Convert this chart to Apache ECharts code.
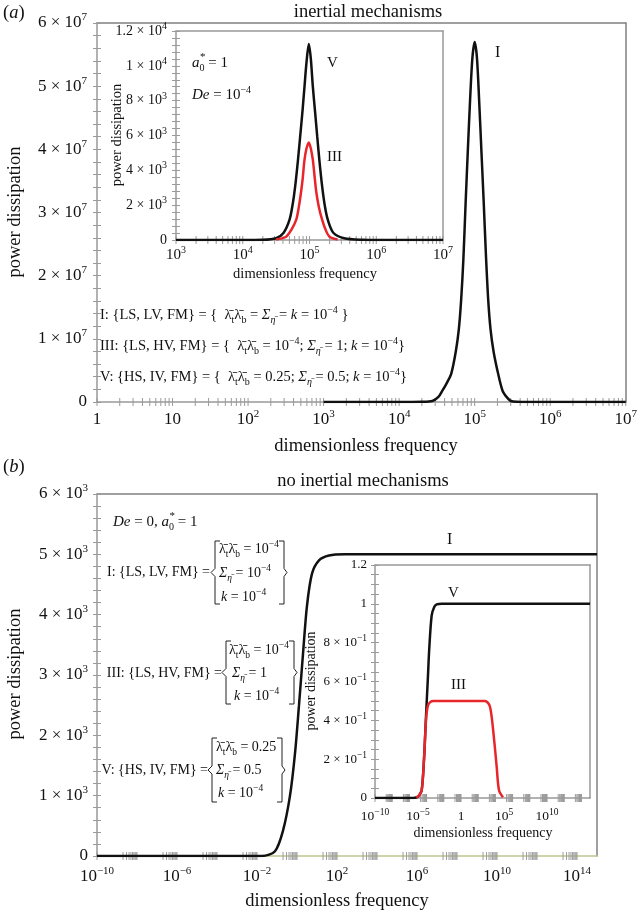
<!DOCTYPE html>
<html><head><meta charset="utf-8">
<script src="https://cdn.jsdelivr.net/npm/echarts@6/dist/echarts.min.js"></script>
<style>html,body{margin:0;padding:0;background:#fff}#c{width:640px;height:912px}</style>
</head><body><div id="c"></div>
<script>
// ---------- DATA (x values are log10 of the dimensionless frequency) ----------
// (a) inertial mechanisms, main plot: case I
const aI_logf = [3.0, 4.0, 4.3, 4.44, 4.52, 4.57, 4.63, 4.69, 4.75, 4.79, 4.82, 4.85, 4.88, 4.91, 4.94, 4.97, 5.0, 5.03, 5.06, 5.09, 5.12, 5.15, 5.18, 5.21, 5.25, 5.31, 5.37, 5.43, 5.48, 5.56, 5.7, 6.0, 7.0];
const aI_val  = [0, 0, 3e4, 1.6e5, 8e5, 1.75e6, 3.0e6, 4.5e6, 8.0e6, 1.15e7, 1.6e7, 2.25e7, 3.15e7, 4.0e7, 4.8e7, 5.45e7, 5.7e7, 5.45e7, 4.75e7, 3.95e7, 3.15e7, 2.3e7, 1.6e7, 1.15e7, 8.0e6, 4.5e6, 1.75e6, 7e5, 1.6e5, 3e4, 0, 0, 0];
// (a) inset: case V and case III
const aV_logf = [3.0, 4.0, 4.3, 4.5, 4.61, 4.70, 4.75, 4.785, 4.83, 4.86, 4.895, 4.925, 4.955, 4.99, 5.02, 5.05, 5.085, 5.116, 5.15, 5.19, 5.23, 5.275, 5.36, 5.52, 5.8, 6.0, 7.0];
const aV_val  = [0, 0, 10, 100, 400, 1150, 2100, 3060, 4700, 5930, 7400, 8800, 10200, 11250, 10400, 8800, 7300, 5930, 4500, 3060, 1950, 1150, 400, 100, 10, 0, 0];
const aIII_logf = [4.5, 4.65, 4.73, 4.80, 4.84, 4.875, 4.90, 4.925, 4.955, 4.99, 5.02, 5.05, 5.075, 5.10, 5.14, 5.19, 5.24, 5.30, 5.42];
const aIII_val  = [30, 190, 600, 1150, 1900, 2800, 3600, 4600, 5250, 5600, 5250, 4600, 3700, 2800, 1900, 1150, 600, 190, 30];
// (b) no inertial mechanisms, main plot: case I
const bI_logf = [-10, -6, -3, -1.75, -1.1, -0.7, -0.35, -0.1, 0.1, 0.3, 0.5, 0.75, 1.1, 1.6, 2.4, 4, 8, 15];
const bI_val  = [0, 0, 0, 0, 80, 420, 1000, 1700, 2500, 3350, 4150, 4680, 4900, 4980, 5000, 5000, 5000, 5000];
// (b) inset: case V and case III
const bV_logf = [-10, -6, -5.2, -4.9, -4.57, -4.3, -4.07, -3.85, -3.69, -3.41, -3.1, -2.83, -2.24, 0, 5, 10, 15];
const bV_val  = [0, 0, 0.003, 0.012, 0.04, 0.2, 0.42, 0.62, 0.77, 0.94, 0.985, 0.997, 1.0, 1.0, 1.0, 1.0, 1.0];
const bIII_logf = [-5.2, -4.9, -4.57, -4.3, -4.07, -3.85, -3.55, -3.2, 0, 2.79, 3.14, 3.37, 3.56, 3.76, 3.96, 4.15, 4.42, 4.88];
const bIII_val  = [0.003, 0.012, 0.04, 0.2, 0.4, 0.475, 0.495, 0.5, 0.5, 0.5, 0.49, 0.47, 0.42, 0.34, 0.25, 0.16, 0.04, 0.004];
// axis ranges / tick label exponents
const aMainX = [0, 7], aInsetX = [3, 7], bMainX = [-10, 15], bInsetX = [-10, 15];
const bMainLabelExps = [-10, -6, -2, 2, 6, 10, 14];
const bInsetLabelExps = [-10, -5, 0, 5, 10];

// ---------- helpers ----------
const SERIF = "'Liberation Serif','Times New Roman','DejaVu Serif',serif";
const GRAY = '#9a9a9a';
const pairs = (xs, ys) => xs.map((x, i) => [x, ys[i]]);
const MINUS = '\u2212';
function expLabel(e) { e = Math.round(e); if (e === 0) return '1'; if (e === 1) return '10'; return '{b|10}{s|' + (e < 0 ? MINUS + (-e) : e) + '}'; }
function richFor(size, sup) {
  return { b: { fontFamily: SERIF, fontSize: size, lineHeight: size + 5, color: '#111' },
           s: { fontFamily: SERIF, fontSize: sup, lineHeight: sup, verticalAlign: 'top', color: '#111' } };
}
function xMain(g, ext, fmt, size, sup, color, margin) {
  return { type: 'value', gridIndex: g, min: ext[0], max: ext[1], interval: 1, position: 'bottom',
    axisLine: { show: true, onZero: false, lineStyle: { color: color, width: 1.5 } },
    axisTick: { show: false }, splitLine: { show: false },
    axisLabel: { formatter: fmt, fontFamily: SERIF, fontSize: size, lineHeight: size + 5, color: '#111', margin: margin, rich: richFor(size, sup) } };
}
function xTop(g, ext, color) {
  return { type: 'value', gridIndex: g, min: ext[0], max: ext[1], position: 'top',
    axisLine: { show: true, onZero: false, lineStyle: { color: color, width: 1.5 } },
    axisTick: { show: false }, axisLabel: { show: false }, splitLine: { show: false } };
}
function yMain(g, max, interval, minor, fmt, size, sup, margin) {
  return { type: 'value', gridIndex: g, min: 0, max: max, interval: interval, position: 'left',
    axisLine: { show: true, onZero: false, lineStyle: { color: '#999', width: 1.5 } },
    axisTick: { show: true, length: 4, lineStyle: { color: GRAY } },
    minorTick: { show: true, splitNumber: minor, length: 4, lineStyle: { color: GRAY } },
    splitLine: { show: false }, minorSplitLine: { show: false },
    axisLabel: { formatter: fmt, fontFamily: SERIF, fontSize: size, lineHeight: size + 5, color: '#111', margin: margin, rich: richFor(size, sup) } };
}
function yDup(g, max, interval, minor) {
  return { type: 'value', gridIndex: g, min: 0, max: max, interval: interval, position: 'left',
    axisLine: { show: false, onZero: false }, axisLabel: { show: false }, splitLine: { show: false },
    axisTick: { show: true, inside: true, length: 4, lineStyle: { color: GRAY } },
    minorTick: { show: true, splitNumber: minor, length: 4, lineStyle: { color: GRAY } } };
}
function yRight(g, max, color) {
  return { type: 'value', gridIndex: g, min: 0, max: max, position: 'right',
    axisLine: { show: true, onZero: false, lineStyle: { color: color, width: 1.5 } },
    axisTick: { show: false }, axisLabel: { show: false }, splitLine: { show: false } };
}
// log-style tick marks for the exponent axes
function logTicks(ext, majorStep, minorDecades) {
  const out = [];
  for (let e = ext[0]; e <= ext[1]; e += majorStep) out.push([e, 4]);
  minorDecades.forEach(k => { for (let m = 2; m <= 9; m++) out.push([k + Math.log10(m), 4]); });
  return out;
}
function range(a, b, step) { const r = []; for (let v = a; v <= b; v += step) r.push(v); return r; }
function tickSeries(g, yIdx, items) {
  return { type: 'custom', xAxisIndex: 2 * g, yAxisIndex: yIdx, silent: true, z: 1, animation: false, clip: false,
    data: items.map(t => [t[0], 0, t[1]]),
    renderItem: function (params, api) {
      const p = api.coord([api.value(0), api.value(1)]);
      const L = api.value(2);
      return { type: 'line', shape: { x1: p[0], y1: p[1] - L, x2: p[0], y2: p[1] + L }, style: { stroke: GRAY, lineWidth: 1 } };
    } };
}
function lineS(g, yIdx, data, color, z) {
  return { type: 'line', xAxisIndex: 2 * g, yAxisIndex: yIdx, data: data, showSymbol: false, symbol: 'none',
    smooth: 0.3, lineStyle: { color: color, width: 2.5 }, z: z, animation: false, silent: true };
}

// ---------- text helpers ----------
const ctx = document.createElement('canvas').getContext('2d');
function tw(t, size, italic) { ctx.font = (italic ? 'italic ' : '') + size + 'px ' + SERIF; return ctx.measureText(t).width; }
function RICH(fs) {
  const ss = Math.round(fs * 0.68 * 2) / 2;
  return {
    n: { fontFamily: SERIF, fontSize: fs, lineHeight: 20, fill: '#111' },
    i: { fontFamily: SERIF, fontSize: fs, fontStyle: 'italic', lineHeight: 20, fill: '#111' },
    sb: { fontFamily: SERIF, fontSize: ss, lineHeight: ss, verticalAlign: 'bottom', fill: '#111' },
    sbi: { fontFamily: SERIF, fontSize: ss, fontStyle: 'italic', lineHeight: ss, verticalAlign: 'bottom', fill: '#111' },
    sp: { fontFamily: SERIF, fontSize: ss, lineHeight: ss, verticalAlign: 'top', fill: '#111' }
  };
}
function txt(x, y, text, o) {
  o = o || {};
  const fs = o.fontSize || 15;
  return { type: 'text', x: x, y: y, rotation: o.rotation || 0, silent: true, z: 10,
    style: { text: text, fontFamily: SERIF, fontSize: fs, fontStyle: o.italic ? 'italic' : 'normal', fill: '#111',
      align: o.align || 'left', verticalAlign: 'middle', lineHeight: 20, rich: RICH(fs) } };
}
function brace(xl, xr, top, bot) {
  const mid = (top + bot) / 2;
  const st = { stroke: '#222', lineWidth: 1, fill: null };
  return [
    { type: 'polyline', silent: true, z: 10, shape: { points: [[xl + 5, top], [xl, top], [xl, mid - 4], [xl - 4, mid], [xl, mid + 4], [xl, bot], [xl + 5, bot]] }, style: st },
    { type: 'polyline', silent: true, z: 10, shape: { points: [[xr - 5, top], [xr, top], [xr, mid - 4], [xr + 3, mid], [xr, mid + 4], [xr, bot], [xr - 5, bot]] }, style: st }
  ];
}
const LL = '{n|\u03bb\u0304}{sb|t}{n|\u03bb\u0304}{sb|b}';
const SIG = '{i|\u03a3}{sbi|\u03b7\u0304}';
const K4 = '{i|k}{n| = 10}{sp|' + MINUS + '4}';
const E4 = '{n| = 10}{sp|' + MINUS + '4}';
const B = { fontSize: 14 };

const graphics = [
  txt(3, 13, '({i|a})', { fontSize: 18.5 }),
  txt(368, 12, 'inertial mechanisms', { fontSize: 18.5, align: 'center' }),
  txt(15, 212, 'power dissipation', { fontSize: 18.5, align: 'center', rotation: Math.PI / 2 }),
  txt(366, 446, 'dimensionless frequency', { fontSize: 18.5, align: 'center' }),
  txt(117, 135, 'power dissipation', { fontSize: 14.5, align: 'center', rotation: Math.PI / 2 }),
  txt(305, 274, 'dimensionless frequency', { fontSize: 14.5, align: 'center' }),
  txt(192, 63, '{i|a}{sb|0}{n| = 1}'),
  txt(192 + tw('a', 15, true) + 0.5, 57, '*', { fontSize: 11 }),
  txt(192, 95, '{i|De}' + E4),
  txt(327, 63, 'V'), txt(327, 157, 'III'), txt(495, 53, 'I', { fontSize: 16 }),
  txt(100, 315, 'I: {LS, LV, FM} = {  ' + LL + '{n| = }' + SIG + '{n| = }{i|k}' + E4 + ' }', { fontSize: 14.5 }),
  txt(100, 346, 'III: {LS, HV, FM} = {  ' + LL + E4 + '{n|; }' + SIG + '{n| = 1; }' + K4 + '}', { fontSize: 14.5 }),
  txt(100, 377, 'V: {HS, IV, FM} = {  ' + LL + '{n| = 0.25; }' + SIG + '{n| = 0.5; }' + K4 + '}', { fontSize: 14.5 }),
  // panel b
  txt(3, 467, '({i|b})', { fontSize: 18.5 }),
  txt(363, 481, 'no inertial mechanisms', { fontSize: 18.5, align: 'center' }),
  txt(15, 674, 'power dissipation', { fontSize: 18.5, align: 'center', rotation: Math.PI / 2 }),
  txt(337, 901, 'dimensionless frequency', { fontSize: 18.5, align: 'center' }),
  txt(311, 681, 'power dissipation', { fontSize: 14, align: 'center', rotation: Math.PI / 2 }),
  txt(483, 833, 'dimensionless frequency', { fontSize: 14, align: 'center' }),
  txt(113, 522, '{i|De}{n| = 0, }{i|a}{sb|0}{n| = 1}'),
  txt(113 + tw('De', 15, true) + tw(' = 0, ', 15) + tw('a', 15, true) + 0.5, 516, '*', { fontSize: 11 }),
  txt(447, 540, 'I', { fontSize: 16 }), txt(448, 593, 'V'), txt(451, 685, 'III'),
  txt(210, 572, 'I: {LS, LV, FM} =', { fontSize: 14, align: 'right' }),
  txt(219, 549, LL + E4, B), txt(219, 573, SIG + E4, B), txt(221, 597, K4, B),
  txt(222, 673, 'III: {LS, HV, FM} =', { fontSize: 14, align: 'right' }),
  txt(229, 650, LL + E4, B), txt(232, 673, SIG + '{n| = 1}', B), txt(234, 696, K4, B),
  txt(208, 770, 'V: {HS, IV, FM} =', { fontSize: 14, align: 'right' }),
  txt(216, 747, LL + '{n| = 0.25}', B), txt(216, 770, SIG + '{n| = 0.5}', B), txt(218, 793, K4, B)
].concat(brace(215, 284, 541, 604), brace(226, 294, 641, 704), brace(212, 282, 738, 802));

// ---------- chart ----------
const chart = echarts.init(document.getElementById('c'), null, { renderer: 'canvas', width: 640, height: 912 });
const fmtAY = v => v === 0 ? '0' : '{b|' + Math.round(v / 1e7) + ' \u00d7 10}{s|7}';
const fmtAIY = v => v === 0 ? '0' : (v >= 1e4 ? '{b|' + (+(v / 1e4).toFixed(1)) + ' \u00d7 10}{s|4}' : '{b|' + Math.round(v / 1e3) + ' \u00d7 10}{s|3}');
const fmtBY = v => v === 0 ? '0' : '{b|' + Math.round(v / 1e3) + ' \u00d7 10}{s|3}';
const fmtBIY = v => { const t = Math.round(v * 10); if (t === 0) return '0'; if (t === 10) return '1'; if (t === 12) return '1.2'; return '{b|' + t + ' \u00d7 10}{s|' + MINUS + '1}'; };
const fmtBX = v => bMainLabelExps.indexOf(Math.round(v)) >= 0 ? expLabel(v) : '';
const fmtBIX = v => bInsetLabelExps.indexOf(Math.round(v)) >= 0 ? expLabel(v) : '';

const option = {
  backgroundColor: '#fff',
  animation: false,
  grid: [
    { left: 97, top: 23, width: 530, height: 379 },
    { left: 176, top: 31, width: 267, height: 209, show: true, backgroundColor: '#fff', borderWidth: 0 },
    { left: 97, top: 494, width: 500, height: 362 },
    { left: 375, top: 565, width: 215, height: 233, show: true, backgroundColor: '#fff', borderWidth: 0 }
  ],
  xAxis: [
    xMain(0, aMainX, v => expLabel(v), 17, 11, '#999', 7), xTop(0, aMainX, '#808080'),
    xMain(1, aInsetX, v => expLabel(v), 15, 10, '#999', 5), xTop(1, aInsetX, '#999'),
    xMain(2, bMainX, fmtBX, 17, 11, '#b9c98e', 10), xTop(2, bMainX, '#808080'),
    xMain(3, bInsetX, fmtBIX, 13.5, 9.5, '#999', 9), xTop(3, bInsetX, '#999')
  ],
  yAxis: [
    yMain(0, 6e7, 1e7, 5, fmtAY, 17, 11, 10), yDup(0, 6e7, 1e7, 5), yRight(0, 6e7, '#808080'),
    yMain(1, 12000, 2000, 5, fmtAIY, 14, 10, 9), yDup(1, 12000, 2000, 5), yRight(1, 12000, '#999'),
    yMain(2, 6000, 1000, 5, fmtBY, 17, 11, 9), yDup(2, 6000, 1000, 5), yRight(2, 6000, '#808080'),
    yMain(3, 1.2, 0.2, 4, fmtBIY, 13, 9.5, 8), yDup(3, 1.2, 0.2, 4), yRight(3, 1.2, '#999')
  ],
  series: [
    tickSeries(0, 0, logTicks(aMainX, 1, range(0, 6, 1))),
    tickSeries(1, 3, logTicks(aInsetX, 1, range(3, 6, 1))),
    tickSeries(2, 6, logTicks(bMainX, 2, range(-9, 13, 2))),
    tickSeries(3, 9, logTicks(bInsetX, 2, range(-9, 13, 2))),
    lineS(0, 0, pairs(aI_logf, aI_val), '#111', 3),
    lineS(1, 3, pairs(aV_logf, aV_val), '#111', 3),
    lineS(1, 3, pairs(aIII_logf, aIII_val), '#e8252b', 4),
    lineS(2, 6, pairs(bI_logf, bI_val), '#111', 3),
    lineS(3, 9, pairs(bV_logf, bV_val), '#111', 3),
    lineS(3, 9, pairs(bIII_logf, bIII_val), '#e8252b', 4)
  ],
  graphic: { elements: graphics }
};
chart.setOption(option);
</script>
</body></html>
